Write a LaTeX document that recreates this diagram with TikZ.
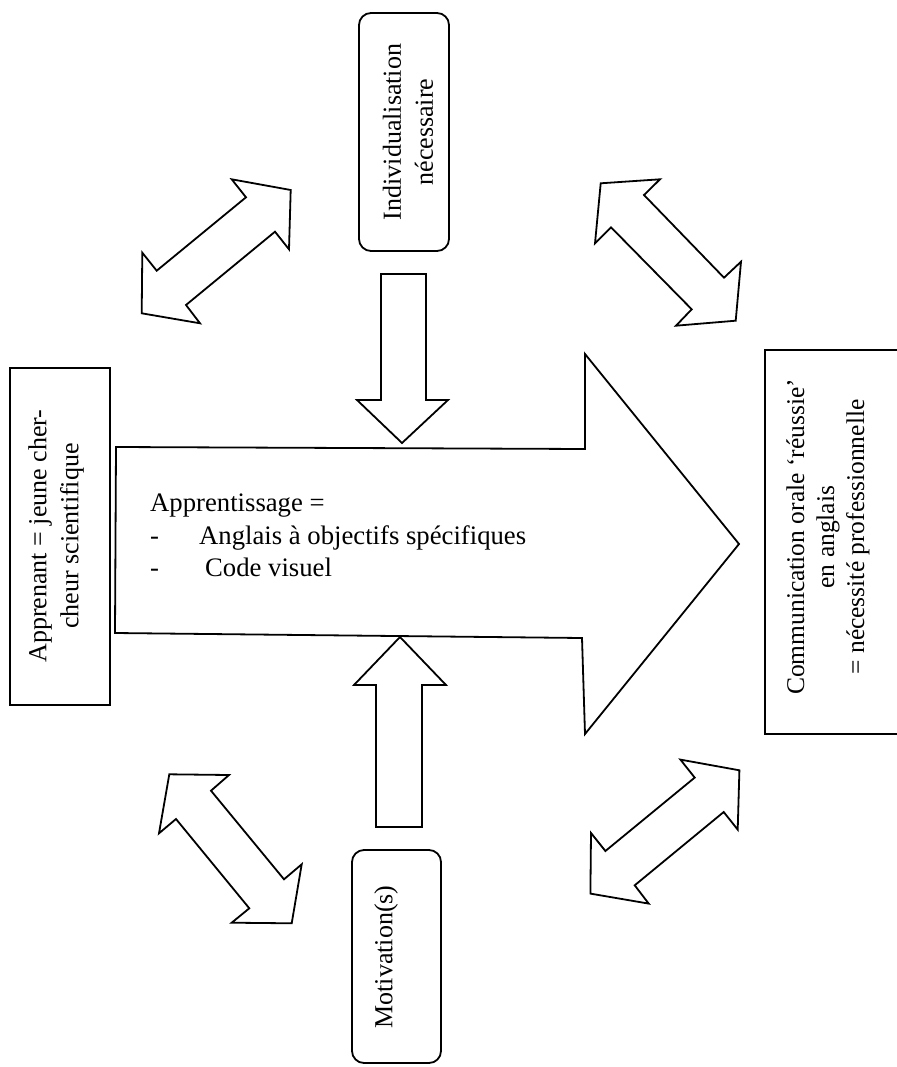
\documentclass[tikz,border=0pt]{standalone}
\usepackage{fontspec}
\setmainfont{Liberation Serif}
\begin{document}
\begin{tikzpicture}[x=1pt,y=-1pt,
  blk/.style={draw=black,line width=1.8pt,fill=white,line join=miter},
  boxr/.style={draw=black,line width=1.8pt,fill=white,inner sep=0pt},
  txt/.style={font=\fontsize{26}{32}\selectfont,inner sep=0pt,align=center},
  rtxt/.style={txt,rotate=90}]
\useasboundingbox (0,0) rectangle (896,1067);
\fill[white] (0,0) rectangle (896,1067);

% boxes
\node[boxr,minimum width=100pt,minimum height=337pt] (appr) at (60,536.5) {};
\node[boxr,rounded corners=12pt,minimum width=90pt,minimum height=238pt] (indiv) at (404,132) {};
\node[boxr,rounded corners=12pt,minimum width=89pt,minimum height=213pt] (motiv) at (396.5,956.5) {};
\node[boxr,minimum width=140pt,minimum height=384pt] (comm) at (835,542) {};

% big arrow
\draw[blk] (116,447) -- (585,449) -- (585,354) -- (739,544) -- (585,734) -- (582,638) -- (115,633) -- cycle;

% down arrow
\draw[blk] (381,274) -- (426,274) -- (426,400) -- (448,400) -- (402,443) -- (357,400) -- (381,400) -- cycle;
% up arrow
\draw[blk] (376,827) -- (422,827) -- (422,685) -- (446,685) -- (400,637) -- (354,685) -- (376,685) -- cycle;

% double arrows
\draw[blk] (231.7,179.3) -- (290.7,190) -- (289,249.3) -- (275,231.7) -- (186,305) -- (200,323.3) -- (141.7,313.3) -- (142.3,252.7) -- (156.7,270.7) -- (246,197.3) -- cycle;
\draw[blk] (680.4,759.6) -- (739.4,770.3) -- (737.7,829.6) -- (723.7,812) -- (634.7,885.3) -- (648.7,903.6) -- (590.4,893.6) -- (591,833) -- (605.4,851) -- (694.7,777.6) -- cycle;
\draw[blk] (169.3,774.3) -- (229,775) -- (211,790.7) -- (284,879.3) -- (301.7,864.3) -- (291.7,923.3) -- (231.7,922.7) -- (249.3,908.3) -- (176,819) -- (159,833.3) -- cycle;
\draw[blk] (600.7,183.3) -- (660,179.3) -- (644,195) -- (724,277.7) -- (741,261.7) -- (735.7,320.7) -- (676,325.7) -- (691.7,309.3) -- (611,227.3) -- (595,243.3) -- cycle;

% texts
\node[rtxt] (tappr) at (56,536) {Apprenant = jeune cher-\\cheur scientifique};
\node[rtxt] (tindiv) at (408,132) {Individualisation\\nécessaire};
\node[rtxt] (tmotiv) at (386,957) {Motivation(s)};
\node[rtxt,font=\fontsize{25.5}{30}\selectfont] (tcomm) at (828,537) {Communication orale ‘réussie’\\en anglais\\= nécessité professionnelle};

\node[txt,font=\fontsize{26.7}{33}\selectfont,anchor=base west] (l1) at (150,511) {Apprentissage =};
\node[txt,font=\fontsize{26.7}{33}\selectfont,anchor=base west] (l2) at (150,544) {\makebox[49pt][l]{-}Anglais à objectifs spécifiques};
\node[txt,font=\fontsize{26.7}{33}\selectfont,anchor=base west] (l3) at (150,576) {\makebox[55pt][l]{-}Code visuel};
\end{tikzpicture}
\end{document}
